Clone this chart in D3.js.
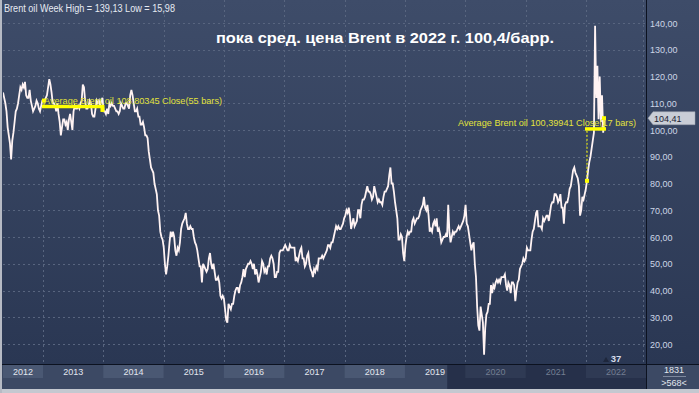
<!DOCTYPE html>
<html><head><meta charset="utf-8">
<script src="https://cdn.jsdelivr.net/npm/d3@7"></script>
<style>html,body{margin:0;padding:0;background:#34425e;overflow:hidden}svg{display:block}</style>
</head><body>
<script>
// ---- data (weekly values), first week ending 2012-05-04 ----
const firstWeek = "2012-05-04";
const w2012 = [114,112,110,107, 101,98,95,89,96, 99,103,107,108, 110,113,116,115,117, 116,118,113,112, 112,115,111,109, 107,108,109,111,110, 108,107,109,111];
const w2013 = [111,111,112,113, 116,119,117,114, 110,110,109,107,110, 106,103,98,101, 104,104,102,103,100, 104,106,103,100, 107,109,108,108, 109,108,110,111,117, 116,111,108,108, 109,111,110,106, 105,105,108,111,110, 111,109,111,112];
const w2014 = [107,107,106,108,106, 110,109,110,109, 109,108,107,107, 106,107,110,109, 108,108,110,110,109, 108,113,115,113, 110,107,107,108, 105,105,102,102,103, 101,98,98,97, 92,89,86,85,84, 80,78,76,70, 68,62,60,59];
const w2015 = [56,50,46,49,53, 58,62,60,62, 60,55,53,56, 55,58,63,65, 66,67,69,65,63, 63,64,63,63, 60,58,57,55,52, 49,49,43,50, 49,48,47,48, 52,54,50,48,50, 47,44,44,45, 43,38,37,38];
const w2016 = [37,33,29,28,35, 34,33,35,35, 38,40,41,41, 39,42,43,45,48, 45,48,49,50, 50,51,50,48, 50,46,48,46,43, 45,47,51,50, 47,48,46,49,49, 52,53,52,50, 45,45,47,47, 54,55,55,55,56];
const w2017 = [57,56,55,55, 57,56,56,56, 56,51,52,51,53, 55,56,52,52, 49,50,53,54, 50,48,47,45,48, 47,49,48,52, 52,52,53,52, 53,54,55,57,57, 56,58,58,60, 62,64,63,64, 63,63,64,65,67];
const w2018 = [68,70,69,71, 68,63,65,67, 64,65,66,70,70, 67,72,74,74, 75,77,79,77, 77,76,74,75,79, 77,75,73,74, 73,73,72,75,77, 77,78,79,83, 86,80,80,77, 73,70,67,59,59, 61,60,54,51];
const w2019 = [57,60,62,61, 62,62,66,67, 65,66,67,67,68, 70,71,72,75, 71,70,72,68,62, 63,62,65,66, 64,67,62,63, 61,58,59,60,60, 61,60,72,62, 58,60,62,61, 62,62,63,64,63, 64,65,66,68];
const w2020 = [72,65,64,61,58, 55,57,58,50, 45,34,27,25, 34,31,28,16, 26,31,32,35,35, 42,39,42,41, 43,44,43,44,43, 45,45,45,46, 42,40,43,42, 39,43,43,42,36, 40,43,44,48, 49,50,52,51];
const w2021 = [52,56,55,55,55, 59,62,63,66, 69,70,64,64, 64,63,67,66,67, 68,68,66,69, 72,73,73,76, 76,75,73,74,76, 71,71,65,72, 73,73,75,78, 79,82,85,86,84, 83,82,79,68, 70,75,74,76,78];
const w2022 = [81,85,88,90, 93,96,99,139, 112,124,104,120, 103,113,99,104.41];

const yTicks = [20,30,40,50,60,70,80,90,100,110,120,130,140];
const yearLabels = ["2012","2013","2014","2015","2016","2017","2018","2019","2020","2021","2022"];
const headerText = "Brent oil Week High = 139,13 Low = 15,98";
const titleText = "пока сред. цена Brent в 2022 г. 100,4/барр.";
const lastValue = 104.41;
const lastLabel = "104,41";
const avgNames = ["Average Brent oil 108,80345 Close(55 bars)", "Average Brent oil 100,39941 Close(17 bars)"];
const avgValues = [108.80345, 100.39941];
const avgStart = ["2013-01-01", "2022-01-01"];
const avgEnd = ["2014-01-02", "2022-04-26"];
const avgFirst = [111, 81];
const avgLast = [107.5, 104.41];
const scrollStart = "2019-09-14";
const countTop = "1831", countBottom = ">568<", barsLabel = "37";

// ---- layout ----
const W = 699, H = 393;
const plotL = 3, plotR = 646, plotT = 0, plotB = 364;
const FONT = "Liberation Sans, Arial, sans-serif";
const parse = d3.utcParse("%Y-%m-%d");
const x = d3.scaleUtc().domain([parse("2013-01-01"), parse("2022-01-01")]).range([43, 586]);
const y = d3.scaleLinear().domain([20, 140]).range([344, 23]);

const all = [].concat(w2012,w2013,w2014,w2015,w2016,w2017,w2018,w2019,w2020,w2021,w2022);
const t0 = parse(firstWeek);
const series = all.map((v,i) => ({date: d3.utcDay.offset(t0, i*7), v}));

const svg = d3.select("body").append("svg").attr("width", W).attr("height", H);
const defs = svg.append("defs");
const g1 = defs.append("linearGradient").attr("id","bg").attr("x1",0).attr("y1",0).attr("x2",0).attr("y2",1);
g1.append("stop").attr("offset","0%").attr("stop-color","#3e4c69");
g1.append("stop").attr("offset","100%").attr("stop-color","#2a3753");
defs.append("clipPath").attr("id","clip").append("rect").attr("x",plotL).attr("y",plotT).attr("width",plotR-plotL).attr("height",plotB-plotT);

// background
svg.append("rect").attr("x",0).attr("y",0).attr("width",W).attr("height",plotB).attr("fill","url(#bg)");

// grid
const gridColor = "#58657f";
const yearBounds = d3.range(2013, 2024).map(yr => parse(yr + "-01-01"));
svg.append("g").selectAll("line").data(yearBounds.filter(d => x(d) <= plotR)).join("line")
  .attr("x1", d => Math.round(x(d))+0.5).attr("x2", d => Math.round(x(d))+0.5)
  .attr("y1", plotT).attr("y2", plotB)
  .attr("stroke", gridColor).attr("stroke-dasharray","2,3");
svg.append("line").attr("x1",643.5).attr("x2",643.5).attr("y1",plotT).attr("y2",plotB).attr("stroke",gridColor).attr("stroke-dasharray","2,3");
svg.append("g").selectAll("line").data(yTicks).join("line")
  .attr("x1", plotL).attr("x2", plotR)
  .attr("y1", d => Math.round(y(d))+0.5).attr("y2", d => Math.round(y(d))+0.5)
  .attr("stroke", gridColor).attr("stroke-dasharray","2,3");

// price line
svg.append("path").datum(series).attr("clip-path","url(#clip)")
  .attr("d", d3.line().x(d => x(d.date)).y(d => y(d.v)))
  .attr("fill","none").attr("stroke","#fff3f3").attr("stroke-width",1.8).attr("stroke-linejoin","miter");

// average annotations
const yel = "#ffff00";
avgValues.forEach((a,i) => {
  const xs = x(parse(avgStart[i])), xe = x(parse(avgEnd[i]));
  const ya = y(a);
  const g = svg.append("g");
  g.append("line").attr("x1",xs+1).attr("x2",xs+1).attr("y1",y(avgFirst[i])).attr("y2",ya)
    .attr("stroke",yel).attr("stroke-width",1).attr("stroke-dasharray", i===1 ? "2,2" : null);
  g.append("line").attr("x1",xe-1).attr("x2",xe-1).attr("y1",y(avgLast[i])).attr("y2",ya)
    .attr("stroke",yel).attr("stroke-width",1);
  g.append("line").attr("x1",xs-1).attr("x2",xe+1).attr("y1",ya).attr("y2",ya)
    .attr("stroke",yel).attr("stroke-width",3.5);
  g.append("rect").attr("x",xs-1).attr("y",y(avgFirst[i])-2).attr("width",4).attr("height",4).attr("fill",yel);
  g.append("rect").attr("x",xe-3).attr("y",y(avgLast[i])-2).attr("width",4).attr("height",4).attr("fill",yel);
});
svg.append("text").attr("x", 44).attr("y", 103.5).text(avgNames[0])
  .attr("font-family",FONT).attr("font-size",9.5).attr("fill","#e2e23c")
  .attr("textLength",178).attr("lengthAdjust","spacingAndGlyphs");
svg.append("text").attr("x", 458).attr("y", 125.5).text(avgNames[1])
  .attr("font-family",FONT).attr("font-size",9.5).attr("fill","#e2e23c")
  .attr("textLength",178).attr("lengthAdjust","spacingAndGlyphs");

// header + title
svg.append("text").attr("x",4).attr("y",12).text(headerText)
  .attr("font-family",FONT).attr("font-size",10).attr("fill","#e6eaf2")
  .attr("textLength",171).attr("lengthAdjust","spacingAndGlyphs");
svg.append("text").attr("x",216).attr("y",43).text(titleText)
  .attr("font-family",FONT).attr("font-size",15).attr("font-weight","bold").attr("fill","#ffffff")
  .attr("textLength",338).attr("lengthAdjust","spacingAndGlyphs");

// right axis
svg.append("g").selectAll("text").data(yTicks).join("text")
  .attr("x", 650).attr("y", d => y(d) + 3.5).text(d => d3.format(".2f")(d).replace(".", ","))
  .attr("font-family",FONT).attr("font-size",9).attr("fill","#cdd6e6");
const yl = y(lastValue);
svg.append("path").attr("d", `M648,${yl} L653,${yl-6.5} L695,${yl-6.5} L695,${yl+6.5} L653,${yl+6.5} Z`)
  .attr("fill","#c9cdd6").attr("stroke","#9aa0ac").attr("stroke-width",0.5);
svg.append("text").attr("x",654).attr("y",yl+3.5).text(lastLabel)
  .attr("font-family",FONT).attr("font-size",9).attr("fill","#1c2233");

// bottom axis strip
svg.append("rect").attr("x",0).attr("y",plotB).attr("width",W).attr("height",H-plotB).attr("fill","#3c4964");
const xs0 = x(parse(scrollStart));
svg.append("rect").attr("x",xs0).attr("y",plotB).attr("width",plotR-xs0).attr("height",389-plotB).attr("fill","#26304a");
const years = yearLabels.map(s => +s);
const bandData = years.map((yr,i) => ({
  label: yearLabels[i],
  x0: Math.max(plotL, x(parse(yr + "-01-01"))),
  x1: Math.min(plotR, x(parse((yr+1) + "-01-01"))),
  i
}));
svg.append("g").selectAll("rect").data(bandData.filter(d => d.i % 2 === 0)).join("rect")
  .attr("x", d => d.x0).attr("y", plotB+1).attr("width", d => d.x1 - d.x0).attr("height", 13)
  .attr("fill", d => d.x0 >= xs0 ? "#2f3a54" : "#4a5873");
svg.append("g").selectAll("text").data(bandData).join("text")
  .attr("x", d => (d.x0 + d.x1)/2).attr("y", plotB + 11).attr("text-anchor","middle").text(d => d.label)
  .attr("font-family",FONT).attr("font-size",9)
  .attr("fill", d => d.x0 >= xs0 ? "#737e92" : "#e2e6ee");

// lines / borders
svg.append("line").attr("x1",0).attr("x2",W).attr("y1",plotB+0.5).attr("y2",plotB+0.5).attr("stroke","#0c1220").attr("stroke-width",1);
svg.append("line").attr("x1",plotR+0.5).attr("x2",plotR+0.5).attr("y1",0).attr("y2",389).attr("stroke","#0c1220").attr("stroke-width",1);
svg.append("rect").attr("x",plotR+1).attr("y",plotB+1).attr("width",W-plotR-1).attr("height",389-plotB-1).attr("fill","#3c4964");
svg.append("text").attr("x",674).attr("y",373).attr("text-anchor","middle").text(countTop)
  .attr("font-family",FONT).attr("font-size",9).attr("fill","#e2e6ee");
svg.append("line").attr("x1",663).attr("x2",686).attr("y1",376.5).attr("y2",376.5).attr("stroke","#9aa4b6").attr("stroke-width",0.7);
svg.append("text").attr("x",674).attr("y",386).attr("text-anchor","middle").text(countBottom)
  .attr("font-family",FONT).attr("font-size",9).attr("fill","#e2e6ee");
svg.append("path").attr("d","M603,362 L606,357 L609,362 Z").attr("fill","#1e273c");
svg.append("text").attr("x",616).attr("y",362).attr("text-anchor","middle").text(barsLabel)
  .attr("font-family",FONT).attr("font-size",9.5).attr("font-weight","bold").attr("fill","#d6dcea");
svg.append("rect").attr("x",0).attr("y",389).attr("width",W).attr("height",4).attr("fill","#c4c8d0");
svg.append("rect").attr("x",0).attr("y",0).attr("width",2).attr("height",H).attr("fill","#b6bac4");
</script>
</body></html>
